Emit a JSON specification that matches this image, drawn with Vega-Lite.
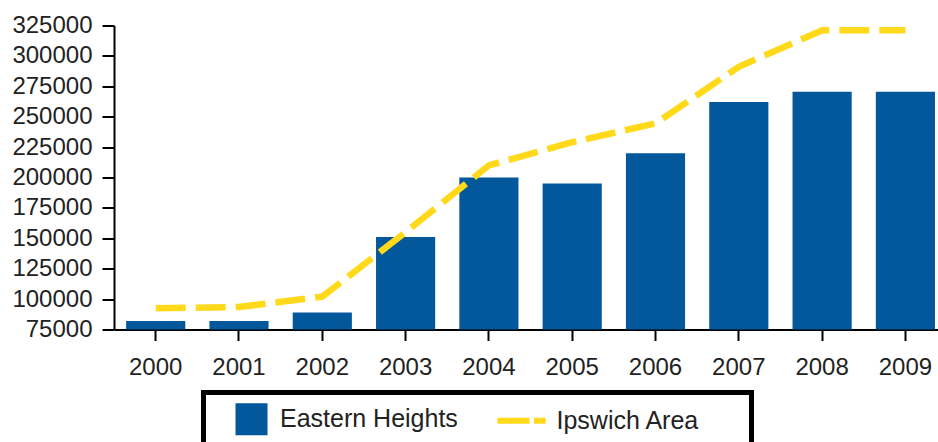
{
  "$schema": "https://vega.github.io/schema/vega-lite/v6.json",
  "width": 824,
  "height": 304,
  "autosize": {"type": "none"},
  "padding": {"left": 114, "top": 25.5, "right": 0, "bottom": 112.5},
  "background": "white",
  "config": {
    "view": {"stroke": null},
    "font": "Liberation Sans",
    "axis": {"labelOverlap": false}
  },
  "data": {
    "values": [
      {"year": "2000", "eastern": 82000, "ipswich": 92500},
      {"year": "2001", "eastern": 82000, "ipswich": 93500},
      {"year": "2002", "eastern": 89000, "ipswich": 102000},
      {"year": "2003", "eastern": 151000, "ipswich": 155000},
      {"year": "2004", "eastern": 200000, "ipswich": 210000},
      {"year": "2005", "eastern": 195000, "ipswich": 229000},
      {"year": "2006", "eastern": 220000, "ipswich": 244500},
      {"year": "2007", "eastern": 262000, "ipswich": 291000},
      {"year": "2008", "eastern": 270500, "ipswich": 321000},
      {"year": "2009", "eastern": 270500, "ipswich": 321000}
    ]
  },
  "encoding": {
    "x": {
      "field": "year",
      "type": "ordinal",
      "scale": {"paddingInner": 0.29, "paddingOuter": 0.091, "align": 0.8},
      "axis": {
        "title": null,
        "labelAngle": 0,
        "labelFontSize": 24,
        "labelColor": "#222",
        "labelPadding": 15,
        "labelOverlap": false,
        "tickSize": 11,
        "tickWidth": 2,
        "tickColor": "black",
        "domainColor": "black",
        "domainWidth": 2
      }
    }
  },
  "layer": [
    {
      "mark": {"type": "bar", "clip": true},
      "encoding": {
        "y": {
          "field": "eastern",
          "type": "quantitative",
          "scale": {"domain": [75000, 325000], "zero": false, "nice": false},
          "axis": {
            "title": null,
            "values": [75000, 100000, 125000, 150000, 175000, 200000, 225000, 250000, 275000, 300000, 325000],
            "tickCount": 11,
            "format": "d",
            "grid": false,
            "labelOverlap": false,
            "labelFontSize": 24,
            "labelColor": "#222",
            "labelPadding": 10,
            "tickSize": 12,
            "tickWidth": 2,
            "tickColor": "black",
            "domainColor": "black",
            "domainWidth": 2
          }
        },
        "color": {
          "datum": "Eastern Heights",
          "type": "nominal",
          "scale": {"domain": ["Eastern Heights", "Ipswich Area"], "range": ["#03579B", "#FFD91A"]},
          "legend": {
            "orient": "none",
            "legendX": 89.5,
            "legendY": 367,
            "direction": "horizontal",
            "columns": 2,
            "title": null,
            "padding": 14,
            "strokeColor": "black",
            "fillColor": "white",
            "symbolSize": 576,
            "labelOffset": 37.5,
            "labelLimit": 400,
            "columnPadding": 35.5,
            "labelFontSize": 25,
            "labelFont": "Liberation Sans",
            "labelColor": "#222",
            "encode": {
              "legend": {"update": {"strokeWidth": {"value": 5}}},
              "symbols": {
                "update": {
                  "shape": {"signal": "datum.value === 'Eastern Heights' ? 'M0.458,-1.333H3.125V1.333H0.458Z' : 'M-0.76,-0.25H1.92V0.25H-0.76Z M2.29,-0.25H3.26V0.25H2.29Z M19.2,0L19.2,0'"},
                  "fill": {"signal": "scale('color', datum.value)"},
                  "stroke": {"value": "transparent"},
                  "strokeWidth": {"value": 0},
                  "opacity": {"value": 1}
                }
              }
            }
          }
        }
      }
    },
    {
      "mark": {"type": "line", "strokeWidth": 6.5, "strokeDash": [30, 10]},
      "encoding": {
        "y": {"field": "ipswich", "type": "quantitative"},
        "color": {"datum": "Ipswich Area", "type": "nominal"}
      }
    }
  ]
}
